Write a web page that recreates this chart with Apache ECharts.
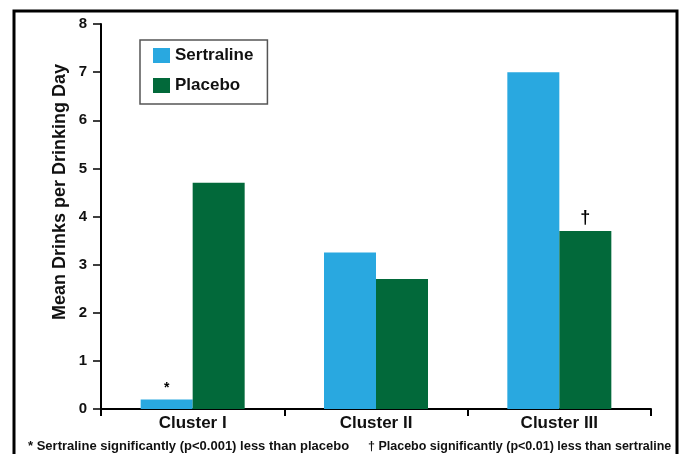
<!DOCTYPE html>
<html>
<head>
<meta charset="utf-8">
<script src="https://cdn.jsdelivr.net/npm/echarts@6/dist/echarts.min.js"></script>
<style>
  html, body { margin: 0; padding: 0; background: #fff; }
  #myChart { width: 681px; height: 454px; }
</style>
</head>
<body>
<div id="myChart"></div>
<script>
// categories and values
const categories = ['Cluster I', 'Cluster II', 'Cluster III']
const sertraline = [0.2, 3.25, 7.0]
const placebo = [4.7, 2.7, 3.7]
// significance marks over the bars
const sertralineMarks = ['*', '', '']
const placeboMarks = ['', '', '†']
const yTicks = [0, 8, 1] // min, max, interval
const notes = [
    '* Sertraline significantly (p<0.001) less than placebo',
    '† Placebo significantly (p<0.01) less than sertraline'
]

const font = '"Liberation Sans", Arial, Helvetica, sans-serif'

function withMarks (values, marks, size) {
    return values.map(function (v, i) {
        if (!marks[i]) return v
        return {
            value: v,
            label: {
                show: true,
                position: 'top',
                distance: 4,
                formatter: marks[i],
                color: '#000',
                fontFamily: font,
                fontWeight: 'bold',
                fontSize: size
            }
        }
    })
}

const myChart = echarts.init(document.getElementById('myChart'))
myChart.setOption({
    animation: false,
    textStyle: { fontFamily: font },
    grid: {
        left: 101,
        right: 30,
        top: 24,
        bottom: 45
    },
    legend: {
        orient: 'vertical',
        left: 140,
        top: 40,
        padding: [7, 14, 10, 13],
        borderColor: '#555',
        borderWidth: 1.5,
        icon: 'rect',
        itemWidth: 17,
        itemHeight: 15,
        itemGap: 13,
        textStyle: { color: '#111', fontWeight: 'bold', fontSize: 17, fontFamily: font },
        data: ['Sertraline', 'Placebo']
    },
    xAxis: {
        type: 'category',
        data: categories,
        axisLine: { lineStyle: { color: '#000', width: 2 } },
        axisTick: { show: true, length: 7, lineStyle: { color: '#000', width: 2 } },
        axisLabel: { color: '#111', fontWeight: 'bold', fontSize: 17, margin: 6, fontFamily: font }
    },
    yAxis: {
        type: 'value',
        min: yTicks[0],
        max: yTicks[1],
        interval: yTicks[2],
        splitLine: { show: false },
        axisLine: { show: true, lineStyle: { color: '#000', width: 2 } },
        axisTick: { show: true, length: 8, lineStyle: { color: '#000', width: 1.5 } },
        axisLabel: { color: '#111', fontWeight: 'bold', fontSize: 15, margin: 14, fontFamily: font }
    },
    graphic: [
        {
            // outer frame
            type: 'rect',
            shape: { x: 14, y: 11, width: 663, height: 470 },
            style: { fill: 'none', stroke: '#000', lineWidth: 3 },
            silent: true
        },
        {
            // y axis title
            type: 'text',
            x: 60,
            y: 192,
            rotation: Math.PI / 2,
            style: {
                text: 'Mean Drinks per Drinking Day',
                fill: '#111',
                font: 'bold 18px ' + font,
                align: 'center',
                verticalAlign: 'middle'
            }
        },
        {
            type: 'text',
            left: 28,
            top: 440,
            style: { text: notes[0], fill: '#111', font: 'bold 13px ' + font }
        },
        {
            type: 'text',
            left: 368,
            top: 440,
            style: { text: notes[1], fill: '#111', font: 'bold 12.5px ' + font }
        }
    ],
    series: [
        {
            name: 'Sertraline',
            type: 'bar',
            barWidth: 52,
            barGap: '0%',
            itemStyle: { color: '#29A8E0' },
            data: withMarks(sertraline, sertralineMarks, 14)
        },
        {
            name: 'Placebo',
            type: 'bar',
            barWidth: 52,
            barGap: '0%',
            itemStyle: { color: '#02693A' },
            data: withMarks(placebo, placeboMarks, 18)
        }
    ]
})
</script>
</body>
</html>
